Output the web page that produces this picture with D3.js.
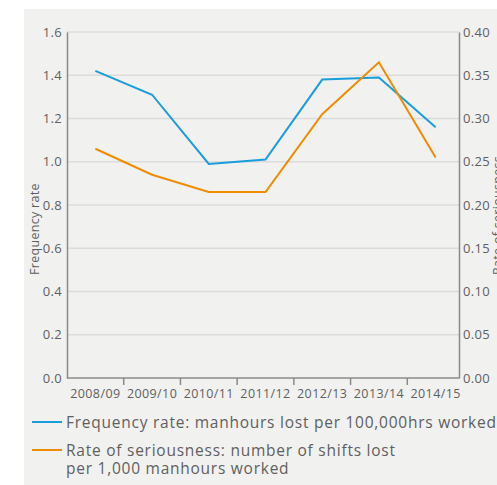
<!DOCTYPE html>
<html>
<head>
<meta charset="utf-8">
<script src="https://cdn.jsdelivr.net/npm/d3@7"></script>
<style>
  html, body { margin: 0; padding: 0; background: #ffffff; }
  svg { display: block; }
  text { font-family: "Open Sans", "DejaVu Sans", sans-serif; }
</style>
</head>
<body>
<svg id="chart" width="497" height="485"></svg>
<script>
// Financial years shown along the bottom
const years = ["2008/09", "2009/10", "2010/11", "2011/12", "2012/13", "2013/14", "2014/15"];
// Frequency rate: manhours lost per 100,000hrs worked (left axis)
const frequencyRate = [1.42, 1.31, 0.99, 1.01, 1.38, 1.39, 1.16];
// Rate of seriousness: shifts lost per 1,000 manhours worked (right axis)
const seriousnessRate = [0.265, 0.235, 0.215, 0.215, 0.305, 0.365, 0.255];
// Axis ticks
const leftTicks = [0, 0.2, 0.4, 0.6, 0.8, 1.0, 1.2, 1.4, 1.6];
const rightTicks = [0, 0.05, 0.10, 0.15, 0.20, 0.25, 0.30, 0.35, 0.40];
// Legend entries
const legendLabels = [
  ["Frequency rate: manhours lost per 100,000hrs worked"],
  ["Rate of seriousness: number of shifts lost", "per 1,000 manhours worked"]
];

const blue = "#1a9ddb";
const orange = "#f08c00";
const textColor = "#5f5f5f";
const axisColor = "#8a8a8a";
const gridColor = "#dcdcdc";

const svg = d3.select("#chart");

// Light panel behind the whole graphic
svg.append("rect")
  .attr("x", 24).attr("y", 9)
  .attr("width", 473).attr("height", 476)
  .attr("fill", "#f1f1f0");

const plotLeft = 67, plotRight = 459, plotTop = 32, plotBottom = 378;

const x = d3.scaleBand().domain(years).range([plotLeft, 464]);
const yL = d3.scaleLinear().domain([0, 1.6]).range([plotBottom, plotTop]);
const yR = d3.scaleLinear().domain([0, 0.40]).range([plotBottom, plotTop]);

// Horizontal gridlines
svg.append("g")
  .selectAll("line")
  .data(leftTicks.filter(d => d > 0))
  .join("line")
  .attr("x1", plotLeft).attr("x2", plotRight)
  .attr("y1", d => yL(d)).attr("y2", d => yL(d))
  .attr("stroke", gridColor)
  .attr("stroke-width", 1.5);

// Left axis
const gL = svg.append("g").attr("transform", `translate(${plotLeft},0)`)
  .call(d3.axisLeft(yL).tickValues(leftTicks).tickFormat(d3.format(".1f")).tickSize(0).tickPadding(5));
gL.select(".domain").attr("stroke", axisColor).attr("stroke-width", 1.5);
gL.selectAll("text").attr("fill", textColor).style("font-size", "13px")
  .style("letter-spacing", "0.3px")
  .style("font-family", "'Open Sans', sans-serif");

// Right axis
const gR = svg.append("g").attr("transform", `translate(${plotRight},0)`)
  .call(d3.axisRight(yR).tickValues(rightTicks).tickFormat(d3.format(".2f")).tickSize(0).tickPadding(4));
gR.select(".domain").attr("stroke", axisColor).attr("stroke-width", 1.5);
gR.selectAll("text").attr("fill", textColor).style("font-size", "13px")
  .style("letter-spacing", "0.3px")
  .style("font-family", "'Open Sans', sans-serif");

// Bottom axis: ticks sit between years, labels centred in each band
svg.append("line")
  .attr("x1", plotLeft).attr("x2", plotRight)
  .attr("y1", plotBottom).attr("y2", plotBottom)
  .attr("stroke", axisColor).attr("stroke-width", 1.5);

svg.append("g")
  .selectAll("line")
  .data(years.slice(1))
  .join("line")
  .attr("x1", d => x(d)).attr("x2", d => x(d))
  .attr("y1", plotBottom).attr("y2", plotBottom + 7)
  .attr("stroke", axisColor).attr("stroke-width", 1.5);

svg.append("g")
  .selectAll("text")
  .data(years)
  .join("text")
  .attr("x", d => x(d) + x.bandwidth() / 2)
  .attr("y", 398)
  .attr("text-anchor", "middle")
  .attr("fill", textColor)
  .style("font-size", "12.5px")
  .style("letter-spacing", "0.4px")
  .text(d => d);

// Axis titles
svg.append("text")
  .attr("transform", "translate(39,275) rotate(-90)")
  .attr("fill", textColor)
  .style("font-size", "12.5px")
  .style("letter-spacing", "0.3px")
  .text("Frequency rate");

svg.append("text")
  .attr("transform", "translate(502,275) rotate(-90)")
  .attr("fill", textColor)
  .style("font-size", "12.5px")
  .style("letter-spacing", "0.3px")
  .text("Rate of seriousness");

// Series lines
const lineL = d3.line().x((d, i) => x(years[i]) + x.bandwidth() / 2).y(d => yL(d));
const lineR = d3.line().x((d, i) => x(years[i]) + x.bandwidth() / 2).y(d => yR(d));

svg.append("path")
  .datum(frequencyRate)
  .attr("d", lineL)
  .attr("fill", "none")
  .attr("stroke", blue)
  .attr("stroke-width", 2);

svg.append("path")
  .datum(seriousnessRate)
  .attr("d", lineR)
  .attr("fill", "none")
  .attr("stroke", orange)
  .attr("stroke-width", 2);

// Legend
const legendRows = [
  { color: blue, y: 422, lines: legendLabels[0] },
  { color: orange, y: 450, lines: legendLabels[1] }
];
legendRows.forEach(r => {
  svg.append("line")
    .attr("x1", 32).attr("x2", 62)
    .attr("y1", r.y).attr("y2", r.y)
    .attr("stroke", r.color).attr("stroke-width", 2);
  r.lines.forEach((s, i) => {
    svg.append("text")
      .attr("x", 66).attr("y", r.y + 6 + i * 18)
      .attr("fill", textColor)
      .style("font-size", "15.5px")
      .style("letter-spacing", "0.75px")
      .text(s);
  });
});
</script>
</body>
</html>
